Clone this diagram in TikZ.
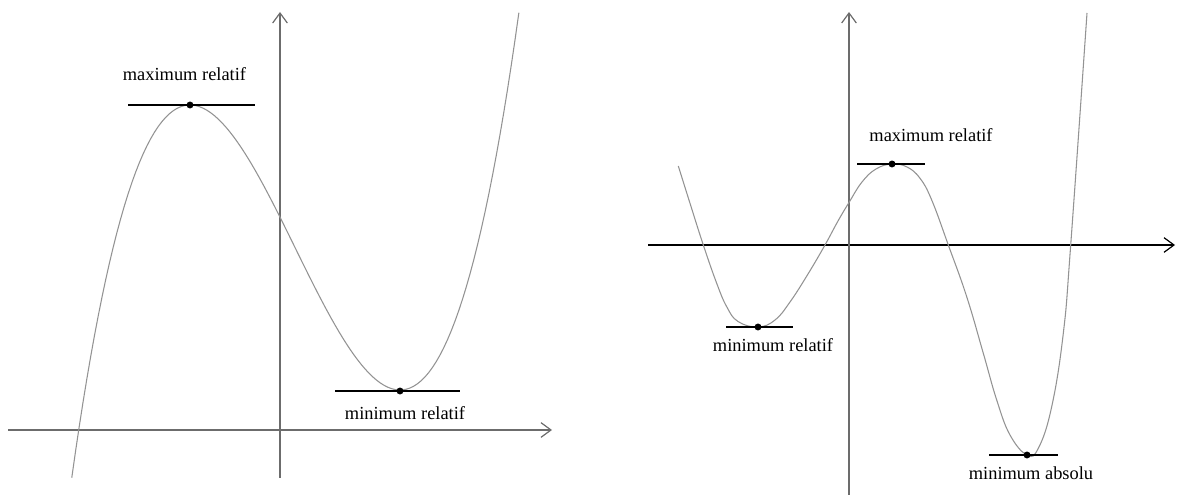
\documentclass[tikz,border=0pt]{standalone}
\usepackage{fontspec}
\setmainfont{Liberation Serif}
\usetikzlibrary{arrows.meta}

\tikzset{
  courbe/.style={gray!85, line width=0.8pt},
  axe/.style={gray!85!black, line width=0.9pt, ->},
  tangente/.style={black, line width=0.8pt},
  etiquette/.style={font=\fontsize{13.8}{16}\selectfont, anchor=base, inner sep=0pt},
}

\begin{document}
\begin{tikzpicture}[x=0.75pt, y=-0.75pt, >={Straight Barb[length=7.5pt,width=11pt]}]
    \useasboundingbox (0,0) rectangle (1178,498);

    % graphe de gauche
    \draw[axe] (8,430) -- (552,430);
    \draw[axe] (280,478) -- (280,12);
    \draw[courbe, domain=-2.126:2.133, samples=120]
        plot ({295+105*\x},{247.5-71.25*(\x*\x*\x-3*\x)});

    % graphe de droite
    \draw[axe, black] (648,245) -- (1175,245);
    \draw[axe] (849,495) -- (849,12);
    \draw[courbe] plot[smooth, tension=0.7] coordinates {
        (678.3,166) (690,203.3) (703.3,245) (716.7,283.3) (726.7,306.7)
        (738,321.5) (758,327) (775,320) (790,302) (808,274)
        (825,245) (838,221) (849.3,202) (862,182)
        (876,169) (892,164) (907,167) (920,178.3) (931.7,200)
        (948.3,245) (966.7,296.7) (983.3,353.3) (996.7,400) (1010,435)
        (1027,455) (1038.3,448.3) (1051.7,406.7) (1063.3,333.3)
        (1070.7,245) (1087,13)};

   \foreach \nom/\px/\py/\g/\d in {maxg/190/105/128/255, ming/400/391/335/460,
        mind/758/327/726/793, maxd/892/164/857/925, absd/1027/455/989/1058} {
    \coordinate (\nom) at (\px,\py);
    \draw[tangente] (\g,\py) -- (\d,\py);
    \fill (\nom) circle (2.6pt);
}

    \node[etiquette] (lmaxg) at (184.5,81) {maximum relatif};
    \node[etiquette] (lming) at (405,420) {minimum relatif};
    \node[etiquette] (lmind) at (773,352) {minimum relatif};
    \node[etiquette] (lmaxd) at (931,142) {maximum relatif};
    \node[etiquette] (labsd) at (1031,480) {minimum absolu};
\end{tikzpicture}
\end{document}
